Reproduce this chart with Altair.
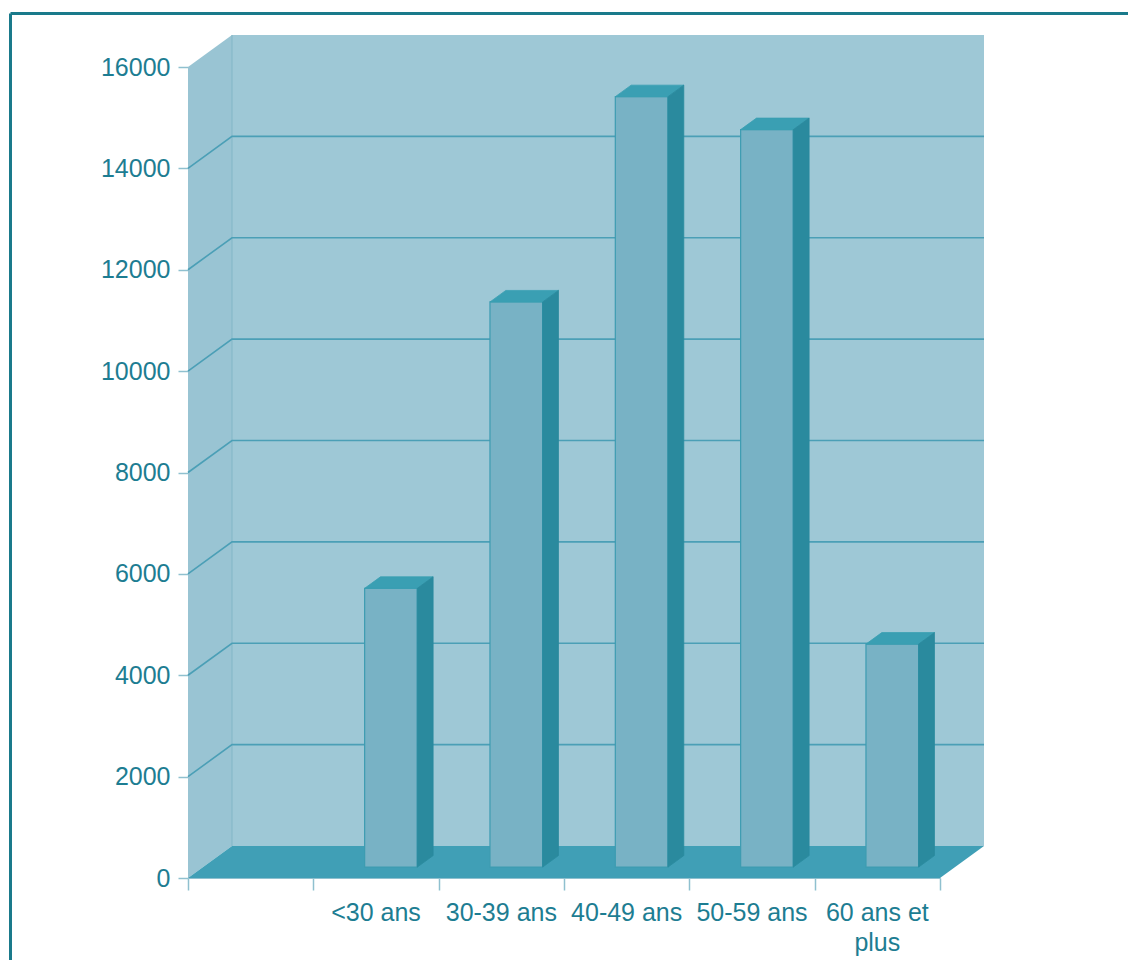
import altair as alt
import pandas as pd

# ---- data ----
categories = ["<30 ans", "30-39 ans", "40-49 ans", "50-59 ans", "60 ans et plus"]
values = [5500, 11150, 15200, 14550, 4400]
slots = [1, 2, 3, 4, 5]            # slot 0 is an empty category
y_ticks = [0, 2000, 4000, 6000, 8000, 10000, 12000, 14000, 16000]
x_ticks = [0, 1, 2, 3, 4, 5, 6]

# ---- geometry / style ----
W, H = 752, 811
XMAX, YMAX = 6, 16000
PX_X = W / XMAX
PX_Y = H / YMAX
DX = 44 / PX_X          # depth of the 3D box in x units
DY = 32 / PX_Y          # depth of the 3D box in y units
F0, F1 = 0.34, 0.70     # bar depth span (fraction of box depth)
BAR_W = 0.42

FONT = "Liberation Sans"
LABEL_C = "#1d7d92"
TICK_C = "#8fc0cf"

xs = alt.Scale(domain=[0, XMAX], nice=False, zero=False)
ys = alt.Scale(domain=[0, YMAX], nice=False, zero=False)
X_AX = alt.Axis(values=x_ticks, labels=False, tickSize=12, tickColor=TICK_C,
                tickWidth=1.5, domainColor=TICK_C, domainWidth=1.2, grid=False, title=None)
Y_AX = alt.Axis(values=y_ticks, tickSize=10, tickColor=TICK_C, tickWidth=1.5,
                domain=False, grid=False, labelFont=FONT, labelFontSize=25,
                labelColor=LABEL_C, labelPadding=8, format="d", title=None)


def X(f):
    return alt.X(f, scale=xs, axis=X_AX, title=None)


def Y(f):
    return alt.Y(f, scale=ys, axis=Y_AX, title=None)


# left wall
lw = pd.DataFrame({"x": [0, DX], "y": [0, DY], "y2": [YMAX, YMAX + DY]})
left_wall = alt.Chart(lw).mark_area(orient="vertical", color="#99c4d3").encode(
    x=X("x:Q"), y=Y("y:Q"), y2="y2:Q",
)

# back wall
bw = pd.DataFrame({"x": [DX], "x2": [XMAX + DX], "y": [DY], "y2": [YMAX + DY]})
back_wall = alt.Chart(bw).mark_rect(color="#9ec8d6").encode(
    x=X("x:Q"), x2="x2:Q", y=Y("y:Q"), y2="y2:Q",
)
corner = alt.Chart(bw).mark_rule(color="#86b9ca", strokeWidth=1.2).encode(
    x=X("x:Q"), y=Y("y:Q"), y2="y2:Q",
)

# gridlines (left wall + back wall)
g_rows = []
for v in y_ticks[1:-1]:
    g_rows += [
        {"g": v, "i": 0, "x": 0, "y": v},
        {"g": v, "i": 1, "x": DX, "y": v + DY},
        {"g": v, "i": 2, "x": XMAX + DX, "y": v + DY},
    ]
grid = alt.Chart(pd.DataFrame(g_rows)).mark_line(color="#4b9fb6", strokeWidth=1.6).encode(
    x=X("x:Q"), y=Y("y:Q"), detail="g:N", order="i:Q",
)

# floor
fl = pd.DataFrame({"y": [0, DY], "x": [0, DX], "x2": [XMAX, XMAX + DX]})
floor = alt.Chart(fl).mark_area(orient="horizontal", color="#409fb6").encode(
    y=Y("y:Q"), x=X("x:Q"), x2="x2:Q",
)

# bars
front_rows, top_rows, side_rows = [], [], []
for c, s, v in zip(categories, slots, values):
    xl = s + 0.5 - BAR_W / 2 + F0 * DX
    xr = xl + BAR_W
    sh = (F1 - F0) * DX
    front_rows.append({"c": c, "x": xl, "x2": xr, "y": F0 * DY, "y2": v + F0 * DY})
    top_rows += [
        {"c": c, "y": v + F0 * DY, "x": xl, "x2": xr},
        {"c": c, "y": v + F1 * DY, "x": xl + sh, "x2": xr + sh},
    ]
    side_rows += [
        {"c": c, "x": xr, "y": F0 * DY, "y2": v + F0 * DY},
        {"c": c, "x": xr + sh, "y": F1 * DY, "y2": v + F1 * DY},
    ]

bar_front = alt.Chart(pd.DataFrame(front_rows)).mark_rect(
    color="#78b2c5", stroke="#3d9cb1", strokeWidth=1.2
).encode(
    x=X("x:Q"), x2="x2:Q", y=Y("y:Q"), y2="y2:Q",
)
bar_top = alt.Chart(pd.DataFrame(top_rows)).mark_area(
    orient="horizontal", color="#3a9fb3", stroke="#3a9fb3", strokeWidth=0.8
).encode(
    y=Y("y:Q"), x=X("x:Q"), x2="x2:Q", detail="c:N",
)
bar_side = alt.Chart(pd.DataFrame(side_rows)).mark_area(
    orient="vertical", color="#2a8a9e", stroke="#2a8a9e", strokeWidth=0.8
).encode(
    x=X("x:Q"), y=Y("y:Q"), y2="y2:Q", detail="c:N",
)

# category labels
lab = pd.DataFrame({"c": categories, "s": [s + 0.5 for s in slots],
                    "t": [c.replace("60 ans et plus", "60 ans et\nplus") for c in categories]})
labels = alt.Chart(lab).mark_text(
    font=FONT, fontSize=25, color=LABEL_C, align="center", baseline="alphabetic",
    lineBreak="\n", lineHeight=30,
).encode(
    x=X("s:Q"),
    y=alt.value(921 - 67),
    text="t:N",
)

# outer frame
one = pd.DataFrame({"a": [0]})
frame_top = alt.Chart(one).mark_rule(color="#1a7a8b", strokeWidth=3).encode(
    x=alt.value(10.5 - 188), x2=alt.value(1128 - 188), y=alt.value(13.5 - 67)
)
frame_left = alt.Chart(one).mark_rule(color="#1a7a8b", strokeWidth=3).encode(
    x=alt.value(10.5 - 188), y=alt.value(13.5 - 67), y2=alt.value(960 - 67)
)

chart = alt.layer(
    left_wall, back_wall, corner, grid, floor, bar_front, bar_top, bar_side,
    labels, frame_top, frame_left,
).properties(
    width=W, height=H,
    autosize=alt.AutoSizeParams(type="none"),
    padding={"left": 188, "top": 67, "right": 188, "bottom": 82},
).configure_view(stroke=None).configure(background="white")

chart.save("out.html", embed_options={"renderer": "svg", "actions": False})
